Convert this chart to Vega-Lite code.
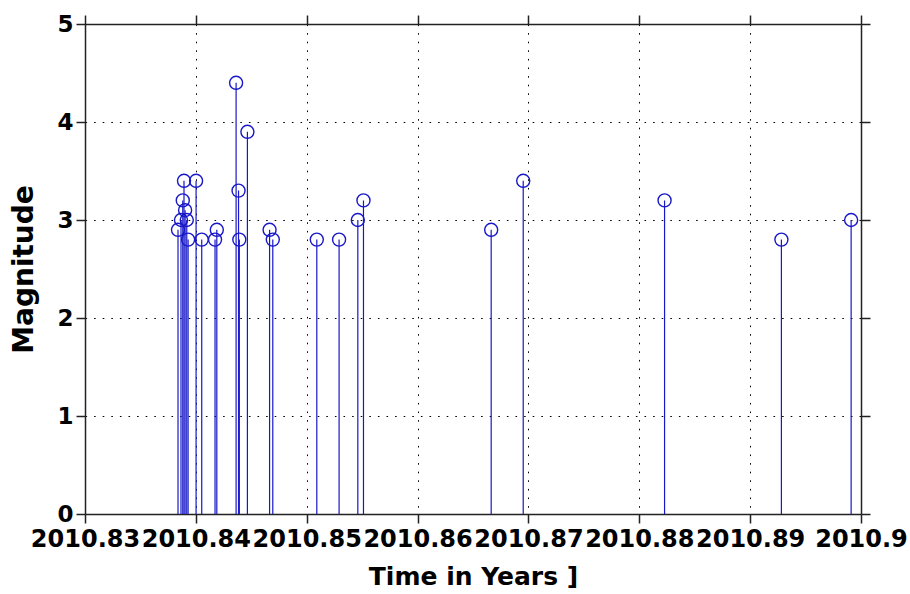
{
  "$schema": "https://vega.github.io/schema/vega-lite/v6.json",
  "width": 776,
  "height": 490,
  "autosize": "none",
  "padding": {"left": 85, "top": 24, "right": 49, "bottom": 80},
  "background": "white",
  "config": {
    "view": {"stroke": null},
    "axis": {
      "labelFont": "DejaVu Sans",
      "labelFontWeight": "bold",
      "labelFontSize": 24,
      "labelColor": "black",
      "titleFont": "DejaVu Sans",
      "titleFontWeight": "bold",
      "titleFontSize": 24,
      "titleColor": "black",
      "domainColor": "#222222",
      "domainWidth": 1.5,
      "tickColor": "#222222",
      "tickWidth": 1.5,
      "tickSize": 9,
      "gridColor": "black",
      "gridOpacity": 1,
      "gridWidth": 1,
      "gridDash": [1.6, 7]
    }
  },
  "data": {
    "values": [
      {"year": 2010.83839, "magnitude": 2.9},
      {"year": 2010.83866, "magnitude": 3.0},
      {"year": 2010.83882, "magnitude": 3.2},
      {"year": 2010.83893, "magnitude": 3.4},
      {"year": 2010.83903, "magnitude": 3.1},
      {"year": 2010.83918, "magnitude": 3.0},
      {"year": 2010.8393, "magnitude": 2.8},
      {"year": 2010.84002, "magnitude": 3.4},
      {"year": 2010.84053, "magnitude": 2.8},
      {"year": 2010.84173, "magnitude": 2.8},
      {"year": 2010.84189, "magnitude": 2.9},
      {"year": 2010.84363, "magnitude": 4.4},
      {"year": 2010.84385, "magnitude": 3.3},
      {"year": 2010.84392, "magnitude": 2.8},
      {"year": 2010.84465, "magnitude": 3.9},
      {"year": 2010.84665, "magnitude": 2.9},
      {"year": 2010.84694, "magnitude": 2.8},
      {"year": 2010.85091, "magnitude": 2.8},
      {"year": 2010.85292, "magnitude": 2.8},
      {"year": 2010.85461, "magnitude": 3.0},
      {"year": 2010.85512, "magnitude": 3.2},
      {"year": 2010.86664, "magnitude": 2.9},
      {"year": 2010.86953, "magnitude": 3.4},
      {"year": 2010.88228, "magnitude": 3.2},
      {"year": 2010.89282, "magnitude": 2.8},
      {"year": 2010.89911, "magnitude": 3.0}
    ]
  },
  "layer": [
    {
      "mark": {"type": "rule", "color": "#1818c8", "strokeWidth": 1.2},
      "encoding": {
        "x": {
          "field": "year",
          "type": "quantitative",
          "scale": {"domain": [2010.83, 2010.9], "nice": false, "zero": false},
          "axis": {
            "orient": "bottom",
            "values": [2010.83, 2010.84, 2010.85, 2010.86, 2010.87, 2010.88, 2010.89, 2010.9],
            "format": ".2~f",
            "labelOverlap": false,
            "labelFlush": false,
            "labelPadding": 4,
            "title": "Time in Years ]",
            "titleFontSize": 25,
            "titlePadding": 13,
            "grid": true
          }
        },
        "y": {
          "field": "magnitude",
          "type": "quantitative",
          "scale": {"domain": [0, 5], "nice": false},
          "axis": {
            "orient": "left",
            "values": [0, 1, 2, 3, 4, 5],
            "labelFontSize": 23,
            "labelPadding": 3,
            "title": "Magnitude",
            "titleFontSize": 28,
            "titlePadding": 18,
            "grid": true
          }
        },
        "y2": {"datum": 0}
      }
    },
    {
      "mark": {"type": "point", "shape": "circle", "filled": false, "color": "#1818c8", "strokeWidth": 1.4, "size": 170, "opacity": 1},
      "encoding": {
        "x": {
          "field": "year",
          "type": "quantitative",
          "axis": {
            "orient": "top",
            "values": [2010.83, 2010.84, 2010.85, 2010.86, 2010.87, 2010.88, 2010.89, 2010.9],
            "labels": false,
            "title": null,
            "grid": false
          }
        },
        "y": {
          "field": "magnitude",
          "type": "quantitative",
          "axis": {
            "orient": "right",
            "values": [0, 1, 2, 3, 4, 5],
            "labels": false,
            "title": null,
            "grid": false
          }
        }
      }
    }
  ],
  "resolve": {"axis": {"x": "independent", "y": "independent"}}
}
